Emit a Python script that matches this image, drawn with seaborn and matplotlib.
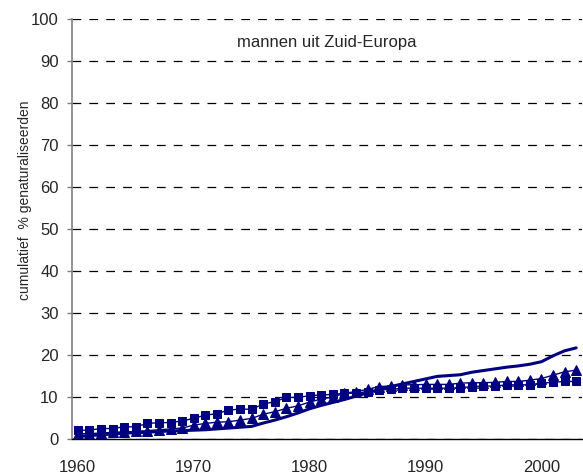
import numpy as np
import pandas as pd
import matplotlib
matplotlib.use("Agg")
import matplotlib.pyplot as plt
import seaborn as sns

# jaren (categorische as in het origineel)
jaren = list(range(1960, 2004))

# reeks met vierkante markers
vierkant = [2.1, 2.1, 2.5, 2.5, 2.9, 2.9, 3.7, 3.9, 3.9, 4.3,
            4.9, 5.7, 6.0, 6.9, 7.1, 7.1, 8.3, 8.9, 9.9, 9.9,
            10.3, 10.5, 10.6, 10.9, 10.9, 11.3, 11.7, 11.8, 12.1, 12.1,
            12.1, 12.1, 12.1, 12.2, 12.5, 12.6, 12.6, 12.9, 12.9, 12.9,
            13.3, 13.5, 13.7, 13.7]

# reeks met driehoekige markers
driehoek = [1.2, 1.3, 1.4, 1.6, 1.7, 1.8, 2.0, 2.2, 2.4, 2.6,
            3.3, 3.7, 4.0, 4.1, 4.5, 4.9, 5.9, 6.5, 7.3, 7.9,
            8.8, 9.5, 10.0, 10.9, 11.3, 11.8, 12.5, 12.6, 12.9, 12.9,
            13.0, 13.0, 13.0, 13.3, 13.4, 13.4, 13.5, 13.7, 13.7, 14.0,
            14.4, 15.2, 16.0, 16.4]

# reeks zonder markers
lijn = [0.6, 0.8, 1.0, 1.2, 1.4, 1.5, 1.6, 1.8, 1.9, 2.0,
        2.1, 2.2, 2.4, 2.6, 2.8, 3.0, 3.8, 4.5, 5.3, 6.2,
        7.2, 8.0, 8.7, 9.4, 10.2, 11.0, 11.8, 12.5, 13.1, 13.7,
        14.3, 14.9, 15.1, 15.3, 15.9, 16.3, 16.7, 17.1, 17.4, 17.8,
        18.4, 19.8, 21.0, 21.7]

titel = "mannen uit Zuid-Europa"
y_label = "cumulatief  % genaturaliseerden"

kleur = "#000080"

df = pd.DataFrame({
    "pos": np.arange(len(jaren)),
    "vierkant": vierkant,
    "driehoek": driehoek,
    "lijn": lijn,
})

sns.set_style("white")
plt.rcParams["font.family"] = ["Liberation Sans", "DejaVu Sans"]

fig = plt.figure(figsize=(5.83, 4.75), dpi=100)
ax = fig.add_axes([72 / 583, 1 - 439 / 475, 510 / 583, 420 / 475])

sns.lineplot(data=df, x="pos", y="lijn", ax=ax, color=kleur, linewidth=2.2)
sns.lineplot(data=df, x="pos", y="driehoek", ax=ax, color=kleur, linewidth=1.0,
             marker="^", markersize=7, markeredgecolor=kleur)
sns.lineplot(data=df, x="pos", y="vierkant", ax=ax, color=kleur, linewidth=1.0,
             marker="s", markersize=6, markeredgecolor=kleur)

ax.set_xlim(-0.5, len(jaren) - 0.5)
ax.set_ylim(0, 100)

# tickmarks tussen categorieen, labels elke 10 jaar
ax.set_xticks(np.arange(-0.5, len(jaren) - 0.5, 5))
ax.set_xticklabels([])
ax.set_xticks(np.arange(0, len(jaren), 10), minor=True)
ax.set_xticklabels([str(jaren[i]) for i in range(0, len(jaren), 10)], minor=True)
ax.tick_params(axis="x", which="major", direction="out", length=3.6, width=1, color="black")
ax.tick_params(axis="x", which="minor", length=0, pad=15, labelsize=12)

ax.set_yticks(np.arange(0, 101, 10))
ax.tick_params(axis="y", direction="out", length=3.6, width=1, color="#808080",
               left=True, labelsize=12, pad=6)

ax.yaxis.grid(True, linestyle=(0, (7, 6.5)), color="black", linewidth=0.9)
ax.set_axisbelow(True)

for s in ["top", "right"]:
    ax.spines[s].set_visible(False)
ax.spines["left"].set_color("#808080")
ax.spines["left"].set_linewidth(1.2)
ax.spines["bottom"].set_color("black")
ax.spines["bottom"].set_linewidth(1.0)

ax.set_xlabel("")
ax.set_ylabel("")
ax.text(0.5, 0.945, titel, transform=ax.transAxes, ha="center", va="center", fontsize=12)
fig.text(25 / 583, 1 - 200 / 475, y_label, rotation=90, ha="center", va="center", fontsize=10)

fig.savefig("out.png", dpi=100)
